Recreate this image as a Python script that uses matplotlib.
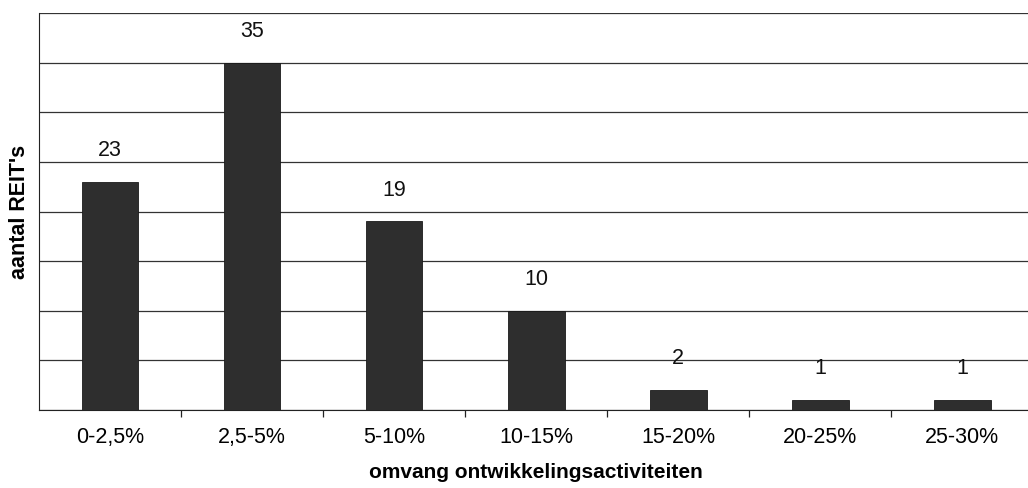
import numpy as np
import matplotlib.pyplot as plt

plt.rcParams['font.family'] = ['Liberation Sans', 'DejaVu Sans']

# share of development activities vs. number of REITs
categories = ['0-2,5%', '2,5-5%', '5-10%', '10-15%', '15-20%', '20-25%', '25-30%']
counts = [23, 35, 19, 10, 2, 1, 1]

fig = plt.figure(figsize=(10.28, 4.88), dpi=100)
ax = fig.add_axes([0.038, 0.160, 0.967, 0.813])

x = np.arange(len(categories))
ax.bar(x, counts, width=0.4, color='#2e2e2e', edgecolor='#1a1a1a', linewidth=0.6, zorder=3)

for xi, c in zip(x, counts):
    ax.annotate(str(c), (xi, c), xytext=(0, 15), textcoords='offset points',
                ha='center', va='bottom', fontsize=15.5, color='#111111')

ax.set_xlim(-0.5, len(categories) - 0.5)
ax.set_ylim(0, 40)
ax.set_yticks(np.arange(0, 41, 5))
ax.set_yticklabels([])
ax.tick_params(axis='y', length=0)
ax.grid(axis='y', color='#333333', linewidth=0.9, zorder=0)

# category labels centred, tick marks on the boundaries
ax.set_xticks(x)
ax.set_xticklabels(categories, fontsize=15.5)
ax.tick_params(axis='x', which='major', length=0, pad=12)
ax.set_xticks(np.arange(0.5, len(categories) - 0.5), minor=True)
ax.tick_params(axis='x', which='minor', length=5, width=0.9, direction='out', color='#222222')

for side in ['top', 'right']:
    ax.spines[side].set_visible(False)
ax.spines['left'].set_color('#222222')
ax.spines['bottom'].set_color('#222222')

ax.set_ylabel("aantal REIT's", fontsize=15.5, fontweight='bold', labelpad=3)
ax.set_xlabel('omvang ontwikkelingsactiviteiten', fontsize=15, fontweight='bold', labelpad=11)

fig.savefig('out.png', dpi=100)
